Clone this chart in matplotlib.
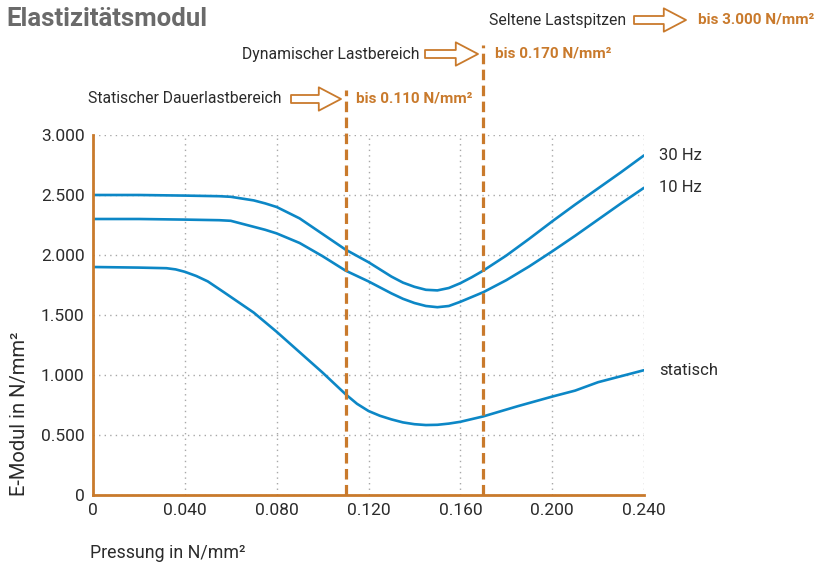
import numpy as np
import matplotlib
matplotlib.use('Agg')
import matplotlib.pyplot as plt

### data
pressure_30 = [0, 0.02, 0.04, 0.055, 0.06, 0.065, 0.07, 0.075, 0.08, 0.09, 0.10, 0.11,
               0.12, 0.13, 0.135, 0.14, 0.145, 0.15, 0.155, 0.16, 0.165, 0.17, 0.18,
               0.19, 0.20, 0.21, 0.22, 0.23, 0.24]
emod_30 = [2.50, 2.50, 2.495, 2.49, 2.485, 2.47, 2.455, 2.43, 2.40, 2.305, 2.175, 2.045,
           1.94, 1.82, 1.77, 1.735, 1.71, 1.705, 1.725, 1.765, 1.815, 1.87, 1.995,
           2.135, 2.28, 2.42, 2.555, 2.69, 2.83]

pressure_10 = [0, 0.02, 0.04, 0.055, 0.06, 0.065, 0.07, 0.075, 0.08, 0.09, 0.10, 0.11,
               0.12, 0.13, 0.135, 0.14, 0.145, 0.15, 0.155, 0.16, 0.165, 0.17, 0.18,
               0.19, 0.20, 0.21, 0.22, 0.23, 0.24]
emod_10 = [2.30, 2.30, 2.295, 2.29, 2.285, 2.26, 2.235, 2.21, 2.18, 2.10, 1.99, 1.87,
           1.78, 1.68, 1.635, 1.60, 1.575, 1.565, 1.575, 1.61, 1.65, 1.69, 1.79,
           1.905, 2.03, 2.16, 2.295, 2.43, 2.56]

pressure_stat = [0, 0.02, 0.032, 0.036, 0.04, 0.045, 0.05, 0.057, 0.07, 0.08, 0.09, 0.10,
                 0.11, 0.115, 0.12, 0.125, 0.13, 0.135, 0.14, 0.145, 0.15, 0.155, 0.16,
                 0.17, 0.185, 0.20, 0.21, 0.215, 0.22, 0.23, 0.24]
emod_stat = [1.90, 1.895, 1.89, 1.88, 1.86, 1.825, 1.78, 1.69, 1.52, 1.36, 1.19, 1.02,
             0.84, 0.76, 0.70, 0.66, 0.63, 0.605, 0.59, 0.583, 0.585, 0.595, 0.61,
             0.655, 0.74, 0.82, 0.87, 0.905, 0.94, 0.99, 1.04]

series_labels = ['30 Hz', '10 Hz', 'statisch']

limits = [0.110, 0.170]
xticks = [0, 0.040, 0.080, 0.120, 0.160, 0.200, 0.240]
xticklabels = ['0', '0.040', '0.080', '0.120', '0.160', '0.200', '0.240']
yticks = [0, 0.5, 1.0, 1.5, 2.0, 2.5, 3.0]
yticklabels = ['0', '0.500', '1.000', '1.500', '2.000', '2.500', '3.000']

# colours
blue = '#0c87c6'
orange = '#c97a2c'
txtcol = '#2b2b2b'

plt.rcParams['font.family'] = ['Roboto', 'DejaVu Sans']

W, H = 821, 568
fig = plt.figure(figsize=(W / 100, H / 100), dpi=100)
ax = fig.add_axes([93 / W, 1 - 495 / H, (644 - 93) / W, (495 - 135) / H])

for xs, ys, lab in zip([pressure_30, pressure_10, pressure_stat],
                       [emod_30, emod_10, emod_stat], series_labels):
    ax.plot(xs, ys, color=blue, lw=1.9, solid_capstyle='round', solid_joinstyle='round',
            zorder=3)
    ax.annotate(lab, xy=(xs[-1], ys[-1]), xytext=(11, 0), textcoords='offset points',
                va='center', ha='left', fontsize=12, color=txtcol, annotation_clip=False)

ax.set_xlim(0, 0.24)
ax.set_ylim(0, 3.0)
ax.set_xticks(xticks)
ax.set_xticklabels(xticklabels)
ax.set_yticks(yticks)
ax.set_yticklabels(yticklabels)
ax.tick_params(length=0, labelsize=12.5, labelcolor=txtcol)
ax.tick_params(axis='x', pad=6)
ax.tick_params(axis='y', pad=6)
ax.grid(True, linestyle=(0, (1, 3)), color='#a8a8a8', lw=1)
ax.set_axisbelow(True)
for s in ['top', 'right']:
    ax.spines[s].set_visible(False)
for s in ['left', 'bottom']:
    ax.spines[s].set_color(orange)
    ax.spines[s].set_linewidth(2)
    ax.spines[s].set_zorder(4)

# dashed limit lines reaching up into the header
tops = [3.375, 3.75]
for xv, top in zip(limits, tops):
    ax.plot([xv, xv], [0, top], color=orange, lw=2.3, ls=(0, (3.3, 1.7)),
            clip_on=False, zorder=5)

# header annotations
def fx(px):
    return px / W

def fy(py):
    return 1 - py / H

fig.text(fx(6), fy(19), 'Elastizitätsmodul', fontsize=18.5, fontweight='bold',
         color='#6a6a6a', va='center', ha='left')

rows = [
    ('Seltene Lastspitzen', 626, 634, 686, 'bis 3.000 N/mm²', 698, 20),
    ('Dynamischer Lastbereich', 420, 425, 478, 'bis 0.170 N/mm²', 495, 54),
    ('Statischer Dauerlastbereich', 281, 291, 341, 'bis 0.110 N/mm²', 356, 99),
]
for lab, xr, a0, a1, val, xv, yc in rows:
    fig.text(fx(xr), fy(yc), lab, fontsize=11.3, color=txtcol, ha='right', va='center')
    ax.annotate('', xy=(fx(a1), fy(yc)), xytext=(fx(a0), fy(yc)),
                xycoords='figure fraction', textcoords='figure fraction',
                arrowprops=dict(arrowstyle='simple,head_length=1.0,head_width=1.05,tail_width=0.36',
                                mutation_scale=16, fc='white', ec=orange, lw=1.3,
                                shrinkA=0, shrinkB=0))
    fig.text(fx(xv), fy(yc), val, fontsize=11, color=orange, fontweight='bold',
             ha='left', va='center')

fig.text(fx(20), fy(414), 'E-Modul in N/mm²', fontsize=14.5, color=txtcol,
         rotation=90, ha='center', va='center')
fig.text(fx(90), fy(553), 'Pressung in N/mm²', fontsize=12.8, color=txtcol,
         ha='left', va='center')

fig.savefig('out.png', dpi=100)
